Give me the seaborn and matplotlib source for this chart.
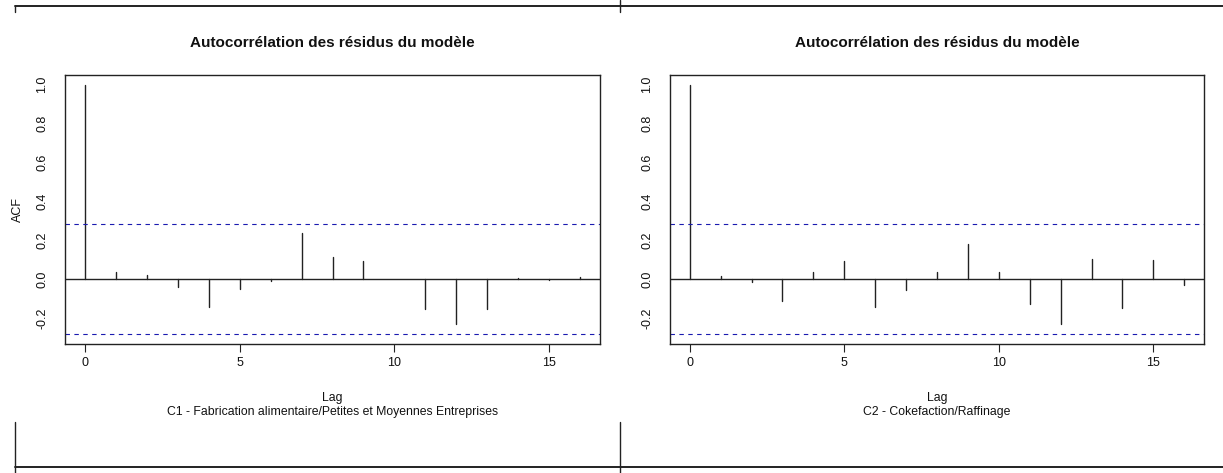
import numpy as np
import pandas as pd
import matplotlib
matplotlib.use("Agg")
import matplotlib.pyplot as plt
from matplotlib.lines import Line2D
import seaborn as sns

# ---- data ----
lags = list(range(17))
acf_c1 = [1.0, 0.039, 0.024, -0.041, -0.142, -0.051, -0.007, 0.239, 0.115, 0.094,
          0.002, -0.152, -0.229, -0.152, 0.007, -0.005, 0.012]
acf_c2 = [1.0, 0.019, -0.014, -0.109, 0.036, 0.094, -0.142, -0.056, 0.036, 0.181,
          0.039, -0.126, -0.229, 0.104, -0.147, 0.099, -0.029]
conf_bound = 0.283
panel_titles = ["Autocorrélation des résidus du modèle", "Autocorrélation des résidus du modèle"]
subtitles = ["C1 - Fabrication alimentaire/Petites et Moyennes Entreprises",
             "C2 - Cokefaction/Raffinage"]
x_ticks = [0, 5, 10, 15]
y_ticks = [-0.2, 0.0, 0.2, 0.4, 0.6, 0.8, 1.0]

sns.set_theme(style="white")
plt.rcParams["font.family"] = ["Liberation Sans", "DejaVu Sans"]

W, H = 1223, 473
fig = plt.figure(figsize=(W / 100, H / 100), dpi=100)

AX_TOP, AX_BOT = 74.7, 344.3
AX_H = AX_BOT - AX_TOP

def px_rect(x0, x1, ytop, ybot):
    return [x0 / W, 1 - ybot / H, (x1 - x0) / W, (ybot - ytop) / H]

axes_rects = [px_rect(65, 600, AX_TOP, AX_BOT), px_rect(670, 1204, AX_TOP, AX_BOT)]
series = [acf_c1, acf_c2]

for i, (rect, vals) in enumerate(zip(axes_rects, series)):
    ax = fig.add_axes(rect)
    rows = []
    for lg, v in zip(lags, vals):
        rows.append({"lag": lg, "acf": 0.0, "unit": lg})
        rows.append({"lag": lg, "acf": v, "unit": lg})
    df = pd.DataFrame(rows)
    sns.lineplot(data=df, x="lag", y="acf", units="unit", estimator=None, sort=False,
                 color="#222222", linewidth=1.0, ax=ax, legend=False)
    ax.axhline(0, color="#222222", linewidth=1.0)
    for b in (conf_bound, -conf_bound):
        ax.axhline(b, color="#1a1ab0", linewidth=0.8, linestyle=(0, (4, 4)))
    ax.set_xlim(-0.64, 16.64)
    ax.set_ylim(-0.334, 1.051)
    ax.set_xticks(x_ticks)
    ax.set_xticklabels([str(t) for t in x_ticks])
    ax.set_yticks(y_ticks)
    ax.set_yticklabels([f"{t:.1f}" for t in y_ticks], rotation=90, va="center")
    ax.tick_params(axis="x", which="major", bottom=True, length=5.8, width=0.8,
                   color="#222222", pad=3, labelsize=9, labelcolor="#111111")
    ax.tick_params(axis="y", which="major", left=True, length=0, pad=12,
                   labelsize=9, labelcolor="#111111")
    for s in ax.spines.values():
        s.set_visible(True)
        s.set_color("#222222")
        s.set_linewidth(1.0)
    ax.set_title(panel_titles[i], fontsize=11, fontweight="bold", color="#111111", pad=20)
    ax.set_xlabel("Lag", fontsize=8.8, color="#111111")
    ax.xaxis.label.set_va("center")
    ax.xaxis.set_label_coords(0.5, -(398 - AX_BOT) / AX_H)
    ax.text(0.5, -(412 - AX_BOT) / AX_H, subtitles[i], transform=ax.transAxes,
            ha="center", va="center", fontsize=8.8, color="#111111")
    if i == 0:
        ax.set_ylabel("ACF", fontsize=9, color="#111111", labelpad=9)
    else:
        ax.set_ylabel("")

# frame lines of the surrounding layout
def fline(x0, y0, x1, y1, lw=1.0):
    fig.add_artist(Line2D([x0 / W, x1 / W], [1 - y0 / H, 1 - y1 / H],
                          transform=fig.transFigure, color="#222222", linewidth=lw))

fline(15, 6, 1223, 6, 1.4)
fline(15, 6, 15, 12, 1.0)
fline(620, 0, 620, 12, 1.0)
fline(15, 467, 1223, 467, 1.4)
fline(15, 422, 15, 473, 1.0)
fline(620, 422, 620, 473, 1.0)

fig.savefig("out.png", dpi=100)
